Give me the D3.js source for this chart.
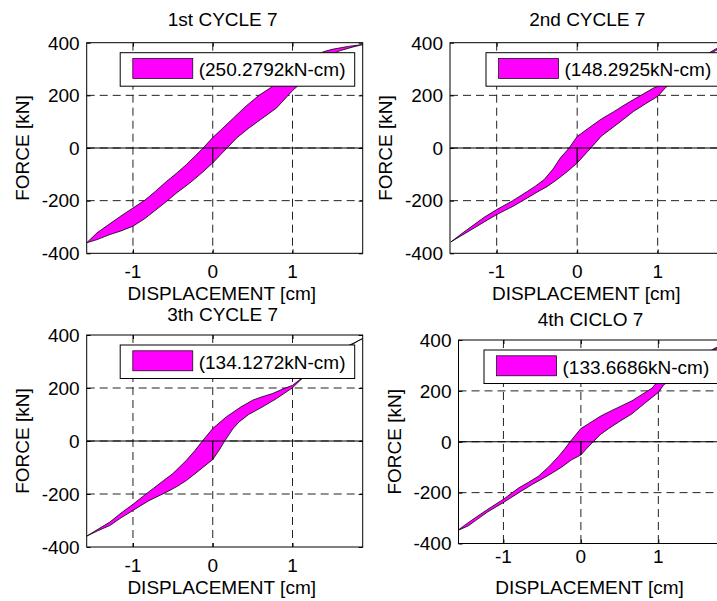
<!DOCTYPE html>
<html>
<head>
<meta charset="utf-8">
<script src="https://cdn.jsdelivr.net/npm/d3@7"></script>
<style>
  body { margin: 0; background: #fff; }
  text { font-family: "Liberation Sans", Arial, Helvetica, sans-serif; fill: #000; }
</style>
</head>
<body>
<svg id="fig" width="717" height="601"></svg>
<script>
// Hysteresis loops of cycle 7, four repetitions: displacement [cm] vs force [kN]
const titles = ["1st CYCLE 7", "2nd CYCLE 7", "3th CYCLE 7", "4th CICLO 7"];
const energies = ["250.2792", "148.2925", "134.1272", "133.6686"]; // dissipated energy, kN-cm
const xTicks = [-1, 0, 1];
const yTicks = [-400, -200, 0, 200, 400];
const xDomain = [-1.58, 1.88];
const yDomain = [-400, 400];

// loading branch (min -> max) and unloading branch (max -> min), [displacement, force]
const loading1 = [[-1.58,-360],[-1.45,-348],[-1.3,-330],[-1.15,-315],[-1.0,-297],[-0.85,-268],[-0.7,-232],[-0.58,-203],[-0.45,-170],[-0.3,-136],[-0.15,-98],[0,-57],[0.1,-25],[0.18,0],[0.3,38],[0.45,75],[0.6,108],[0.8,152],[0.93,195],[1.0,218],[1.1,245],[1.2,275],[1.3,305],[1.4,335],[1.5,358],[1.6,370],[1.75,383],[1.88,393]];
const unloading1 = [[1.88,393],[1.7,386],[1.5,375],[1.39,366],[1.2,340],[1.0,298],[0.85,262],[0.72,228],[0.58,200],[0.42,160],[0.26,114],[0.1,68],[0,40],[-0.12,0],[-0.22,-30],[-0.33,-63],[-0.45,-95],[-0.58,-127],[-0.72,-165],[-0.85,-198],[-1.0,-228],[-1.15,-258],[-1.3,-290],[-1.45,-322],[-1.58,-360]];

const loading2 = [[-1.57,-357],[-1.45,-335],[-1.28,-304],[-1.15,-280],[-1.0,-253],[-0.8,-222],[-0.62,-190],[-0.5,-168],[-0.37,-146],[-0.25,-120],[-0.12,-89],[0,-57],[0.08,-30],[0.17,0],[0.3,45],[0.46,82],[0.58,110],[0.7,139],[0.85,168],[1.0,196],[1.1,230],[1.25,265],[1.4,300],[1.55,335],[1.72,370],[1.88,392]];
const unloading2 = [[1.88,392],[1.72,376],[1.55,345],[1.4,315],[1.2,270],[1.05,240],[0.95,228],[0.82,205],[0.7,184],[0.58,162],[0.46,139],[0.3,110],[0.17,82],[0.05,55],[0,44],[-0.1,0],[-0.21,-38],[-0.3,-80],[-0.41,-120],[-0.52,-145],[-0.62,-165],[-0.8,-200],[-1.0,-234],[-1.15,-262],[-1.28,-291],[-1.42,-322],[-1.57,-357]];

const loading3 = [[-1.58,-359],[-1.45,-340],[-1.29,-319],[-1.15,-290],[-1.0,-262],[-0.8,-225],[-0.58,-193],[-0.45,-172],[-0.33,-149],[-0.17,-111],[0,-70],[0.08,-35],[0.15,0],[0.25,45],[0.33,72],[0.45,100],[0.62,128],[0.8,160],[1.0,201],[1.1,230],[1.25,265],[1.45,305],[1.67,349],[1.85,383],[1.88,386]];
const unloading3 = [[1.88,386],[1.7,360],[1.5,320],[1.3,280],[1.15,245],[1.08,229],[1.0,210],[0.87,195],[0.75,179],[0.6,165],[0.5,154],[0.35,128],[0.17,91],[0.05,60],[0,47],[-0.13,0],[-0.22,-35],[-0.33,-73],[-0.5,-123],[-0.62,-150],[-0.75,-180],[-0.88,-210],[-1.0,-239],[-1.15,-272],[-1.29,-306],[-1.45,-335],[-1.58,-359]];

const loading4 = [[-1.59,-349],[-1.45,-330],[-1.36,-310],[-1.2,-275],[-1.0,-239],[-0.8,-200],[-0.63,-168],[-0.5,-146],[-0.37,-123],[-0.25,-100],[-0.12,-71],[0,-52],[0.08,-25],[0.16,0],[0.25,28],[0.36,52],[0.5,80],[0.66,110],[0.82,150],[1.0,194],[1.07,224],[1.2,250],[1.4,290],[1.6,335],[1.73,362],[1.88,385]];
const unloading4 = [[1.88,385],[1.73,368],[1.55,335],[1.35,295],[1.15,255],[0.96,226],[0.92,211],[0.8,188],[0.66,161],[0.53,142],[0.4,123],[0.25,100],[0.1,71],[0,52],[-0.14,0],[-0.2,-25],[-0.29,-58],[-0.42,-100],[-0.55,-136],[-0.68,-160],[-0.8,-181],[-1.0,-226],[-1.2,-265],[-1.36,-298],[-1.5,-328],[-1.59,-349]];

const loadings = [loading1, loading2, loading3, loading4];
const unloadings = [unloading1, unloading2, unloading3, unloading4];

// axes boxes and text placement for the 2x2 grid
const layout = [
  { left: 86.7,  top: 42.7, width: 276,   height: 210.6, titleY: 26,    tickY: 278.3, labelY: 299.5, yLabelX: 28.5 },
  { left: 450,   top: 42.7, width: 278.5, height: 210.6, titleY: 26,    tickY: 278.3, labelY: 299.5, yLabelX: 391.5 },
  { left: 86.7,  top: 335,  width: 276,   height: 212,   titleY: 320.7, tickY: 571.7, labelY: 593.5, yLabelX: 28.5 },
  { left: 458.5, top: 340,  width: 268,   height: 203.5, titleY: 326,   tickY: 563.3, labelY: 593.5, yLabelX: 401 }
];

const FS = 19;
const svg = d3.select("#fig");

layout.forEach((L, i) => {
  const x = d3.scaleLinear().domain(xDomain).range([L.left, L.left + L.width]);
  const y = d3.scaleLinear().domain(yDomain).range([L.top + L.height, L.top]);
  const g = svg.append("g");

  const clipId = "clip" + i;
  g.append("clipPath").attr("id", clipId)
    .append("rect").attr("x", L.left).attr("y", L.top).attr("width", L.width).attr("height", L.height);

  // white axes background
  g.append("rect").attr("x", L.left).attr("y", L.top).attr("width", L.width).attr("height", L.height).attr("fill", "#fff");

  // dashed grid
  const grid = g.append("g").attr("clip-path", `url(#${clipId})`)
    .attr("stroke", "#222").attr("stroke-width", 1).attr("stroke-dasharray", "8,5");
  xTicks.forEach(t => grid.append("line").attr("x1", x(t)).attr("x2", x(t)).attr("y1", L.top).attr("y2", L.top + L.height));
  yTicks.filter(t => t > yDomain[0] && t < yDomain[1]).forEach(t =>
    grid.append("line").attr("x1", L.left).attr("x2", L.left + L.width).attr("y1", y(t)).attr("y2", y(t)));

  // closed loop: start at origin, drop onto the loading branch at d = 0, go round the cycle
  const load = loadings[i], unload = unloadings[i];
  const z = load.findIndex(p => p[0] === 0);
  const pts = [[0, 0]].concat(load.slice(z), unload.slice(1), load.slice(1, z + 1));
  const line = d3.line().x(p => x(p[0])).y(p => y(p[1]));
  const data = g.append("g").attr("clip-path", `url(#${clipId})`);
  data.append("path").attr("d", line(pts) + "Z")
    .attr("fill", "#ff00ff").attr("stroke", "#000").attr("stroke-width", 0.8).attr("stroke-linejoin", "round");

  // zero force line
  data.append("line").attr("x1", L.left).attr("x2", L.left + L.width).attr("y1", y(0)).attr("y2", y(0))
    .attr("stroke", "#000").attr("stroke-width", 1.2);

  // axes frame with inward ticks on all four sides
  const xAxisB = d3.axisBottom(x).tickValues(xTicks).tickSize(-4).tickFormat("");
  const xAxisT = d3.axisTop(x).tickValues(xTicks).tickSize(-4).tickFormat("");
  const yAxisL = d3.axisLeft(y).tickValues(yTicks).tickSize(-4).tickFormat("");
  const yAxisR = d3.axisRight(y).tickValues(yTicks).tickSize(-4).tickFormat("");
  [[xAxisB, `translate(0,${L.top + L.height})`], [xAxisT, `translate(0,${L.top})`],
   [yAxisL, `translate(${L.left},0)`], [yAxisR, `translate(${L.left + L.width},0)`]].forEach(([ax, tr]) => {
    const a = g.append("g").attr("transform", tr).call(ax);
    a.selectAll("path,line").attr("stroke", "#000").attr("stroke-width", 1);
    a.select(".domain").attr("d", null);
  });
  g.append("rect").attr("x", L.left).attr("y", L.top).attr("width", L.width).attr("height", L.height)
    .attr("fill", "none").attr("stroke", "#000").attr("stroke-width", 1);

  // tick labels
  xTicks.forEach(t => g.append("text").attr("x", x(t)).attr("y", L.tickY)
    .attr("text-anchor", "middle").attr("font-size", FS).text(String(t)));
  yTicks.forEach(t => g.append("text").attr("x", L.left - 7).attr("y", y(t)).attr("dy", "0.36em")
    .attr("text-anchor", "end").attr("font-size", FS).text(String(t)));

  // titles and axis labels
  g.append("text").attr("x", L.left + L.width / 2 - 2).attr("y", L.titleY)
    .attr("text-anchor", "middle").attr("font-size", FS).text(titles[i]);
  g.append("text").attr("x", L.left + L.width / 2 - 3).attr("y", L.labelY)
    .attr("text-anchor", "middle").attr("font-size", FS).text("DISPLACEMENT [cm]");
  g.append("text").attr("transform", `translate(${L.yLabelX},${L.top + L.height / 2}) rotate(-90)`)
    .attr("text-anchor", "middle").attr("font-size", FS).text("FORCE [kN]");

  // legend box, top right inside the axes
  const lw = 234.5, lh = 33.5;
  const lx = L.left + L.width - 8 - lw, ly = L.top + 10;
  const leg = g.append("g").attr("clip-path", `url(#${clipId})`);
  leg.append("rect").attr("x", lx).attr("y", ly).attr("width", lw).attr("height", lh)
    .attr("fill", "#fff").attr("stroke", "#000").attr("stroke-width", 1);
  leg.append("rect").attr("x", lx + 12.6).attr("y", ly + 5.8).attr("width", 60).attr("height", 20)
    .attr("fill", "#ff00ff").attr("stroke", "#000").attr("stroke-width", 0.7);
  leg.append("text").attr("x", lx + 78.5).attr("y", ly + lh / 2).attr("dy", "0.36em")
    .attr("font-size", FS).text(`(${energies[i]}kN-cm)`);
});
</script>
</body>
</html>
